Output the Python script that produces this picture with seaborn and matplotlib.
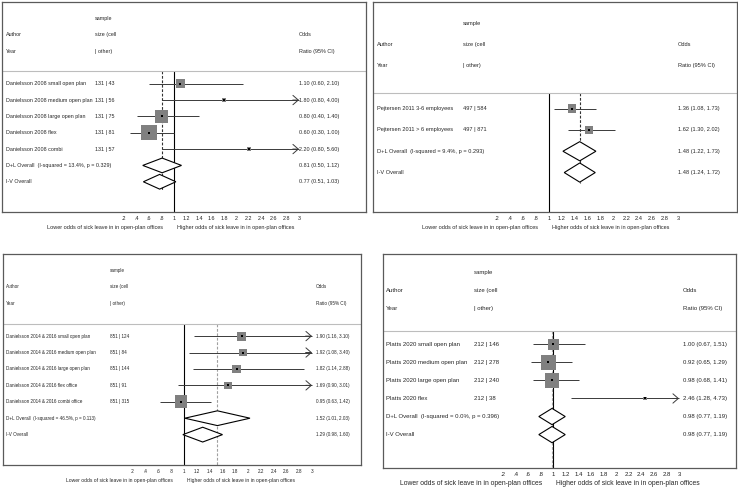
import numpy as np
import pandas as pd
import matplotlib.pyplot as plt
from matplotlib.patches import Polygon
import seaborn as sns

# ---- data ----
# panel 1: Danielsson 2008
p1_labels = ["Danielsson 2008 small open plan", "Danielsson 2008 medium open plan",
             "Danielsson 2008 large open plan", "Danielsson 2008 flex", "Danielsson 2008 combi"]
p1_samples = ["131 | 43", "131 | 56", "131 | 75", "131 | 81", "131 | 57"]
p1_or = [1.10, 1.80, 0.80, 0.60, 2.20]
p1_lo = [0.60, 0.80, 0.40, 0.30, 0.80]
p1_hi = [2.10, 4.00, 1.40, 1.00, 5.60]
p1_weight = [15, 4, 33, 46, 2]
p1_dl = [0.81, 0.50, 1.12]
p1_i2, p1_p = 13.4, 0.329
p1_iv = [0.77, 0.51, 1.03]

# panel 2: Pejtersen 2011
p2_labels = ["Pejtersen 2011 3-6 employees", "Pejtersen 2011 > 6 employees"]
p2_samples = ["497 | 584", "497 | 871"]
p2_or = [1.36, 1.62]
p2_lo = [1.08, 1.30]
p2_hi = [1.73, 2.02]
p2_weight = [52, 48]
p2_dl = [1.48, 1.22, 1.73]
p2_i2, p2_p = 9.4, 0.293
p2_iv = [1.48, 1.24, 1.72]

# panel 3: Danielsson 2014 & 2016
p3_labels = ["Danielsson 2014 & 2016 small open plan", "Danielsson 2014 & 2016 medium open plan",
             "Danielsson 2014 & 2016 large open plan", "Danielsson 2014 & 2016 flex office",
             "Danielsson 2014 & 2016 combi office"]
p3_samples = ["851 | 124", "851 | 84", "851 | 144", "851 | 91", "851 | 315"]
p3_or = [1.90, 1.92, 1.82, 1.69, 0.95]
p3_lo = [1.16, 1.08, 1.14, 0.90, 0.63]
p3_hi = [3.10, 3.40, 2.88, 3.01, 1.42]
p3_weight = [19, 12, 16, 14, 39]
p3_dl = [1.52, 1.01, 2.03]
p3_i2, p3_p = 46.5, 0.113
p3_iv = [1.29, 0.98, 1.60]

# panel 4: Platts 2020
p4_labels = ["Platts 2020 small open plan", "Platts 2020 medium open plan",
             "Platts 2020 large open plan", "Platts 2020 flex"]
p4_samples = ["212 | 146", "212 | 278", "212 | 240", "212 | 38"]
p4_or = [1.00, 0.92, 0.98, 2.46]
p4_lo = [0.67, 0.65, 0.68, 1.28]
p4_hi = [1.51, 1.29, 1.41, 4.73]
p4_weight = [21, 41, 36, 2]
p4_dl = [0.98, 0.77, 1.19]
p4_i2, p4_p = 0.0, 0.396
p4_iv = [0.98, 0.77, 1.19]

ticks = np.round(np.arange(0.2, 3.01, 0.2), 1)
tick_labels = [f"{t:g}".lstrip("0") for t in ticks]

sns.set_theme(style="white")
plt.rcParams["font.family"] = ["Liberation Sans", "DejaVu Sans"]
W, H = 738, 488
fig = plt.figure(figsize=(W / 100, H / 100), dpi=100)


def forest(box, p02, p3, cols, max_box, dash_bottom, dash_col, fs, fs_ax,
           labels, samples, est, lo, hi, weight, dl, i2, pval, iv):
    left, top, right, bottom = box
    ax = fig.add_axes([left / W, 1 - bottom / H, (right - left) / W, (bottom - top) / H])
    k = 2.8 / (p3 - p02)
    ax.set_xlim(0.2 + (left - p02) * k, 0.2 + (right - p02) * k)
    n = len(labels) + 2
    ybot = n + 0.85
    ax.set_ylim(ybot, -5)
    sep = -0.75
    fx = [(c - left) / (right - left) for c in cols]
    tr = ax.get_yaxis_transform()

    # header
    ax.text(fx[1], -4, "sample", transform=tr, va="center", fontsize=fs)
    for y, a, b, c in [(-3, "Author", "size (cell", "Odds"),
                       (-2, "Year", "| other)", "Ratio (95% CI)")]:
        ax.text(fx[0], y, a, transform=tr, va="center", fontsize=fs)
        ax.text(fx[1], y, b, transform=tr, va="center", fontsize=fs)
        ax.text(fx[2], y, c, transform=tr, va="center", fontsize=fs)
    ax.axhline(sep, color="#bdbdbd", lw=0.8)

    df = pd.DataFrame({"y": np.arange(len(labels)), "est": est, "lo": lo, "hi": hi, "w": weight})
    side = max_box * np.sqrt(df["w"] / df["w"].max()) * 0.72

    ax.vlines(1, sep, ybot, color="black", lw=0.8, zorder=1)
    dend = ybot if dash_bottom else n - 1 + 0.5
    ax.vlines(dl[0], sep, dend, color=dash_col, lw=0.8, linestyles=(0, (2.5, 1.5)), zorder=1)

    for r in df.itertuples():
        ax.hlines(r.y, r.lo, min(r.hi, 3), color="#3a3a3a", lw=0.7, zorder=2)
        if r.hi > 3:
            ax.annotate("", xy=(3, r.y), xytext=(2.9, r.y),
                        arrowprops=dict(arrowstyle="->,head_length=0.32,head_width=0.28",
                                        color="#3a3a3a", lw=0.7, shrinkA=0, shrinkB=0))
        ax.text(fx[0], r.y, labels[r.y], transform=tr, va="center", fontsize=fs)
        ax.text(fx[1], r.y, samples[r.y], transform=tr, va="center", fontsize=fs)
        ax.text(fx[2], r.y, f"{r.est:.2f} ({r.lo:.2f}, {r.hi:.2f})", transform=tr,
                va="center", fontsize=fs)

    sns.scatterplot(data=df, x="est", y="y", marker="s", s=side ** 2, color="#808080",
                    linewidth=0, legend=False, ax=ax, zorder=3)
    ax.scatter(df["est"], df["y"], marker="s", s=2.2, color="black", linewidth=0, zorder=4)

    # pooled diamonds
    for j, (pool, name) in enumerate([(dl, f"D+L Overall  (I-squared = {i2:.1f}%, p = {pval:.3f})"),
                                      (iv, "I-V Overall")]):
        y = len(labels) + j
        e, l, h = pool
        ax.add_patch(Polygon([(l, y), (e, y - 0.45), (h, y), (e, y + 0.45)], closed=True,
                             facecolor="white", edgecolor="black", lw=0.8, zorder=3))
        ax.text(fx[0], y, name, transform=tr, va="center", fontsize=fs)
        ax.text(fx[2], y, f"{e:.2f} ({l:.2f}, {h:.2f})", transform=tr, va="center", fontsize=fs)

    ax.set_xticks(ticks, tick_labels)
    ax.set_yticks([])
    ax.set_xlabel("")
    ax.set_ylabel("")
    ax.tick_params(axis="x", length=0, pad=3.2, labelsize=fs, colors="#222222")
    for s in ax.spines.values():
        s.set_color("#5a5a5a")
        s.set_linewidth(0.9)
    ax.annotate("Lower odds of sick leave in in open-plan offices", xy=(1, 0),
                xycoords=("data", "axes fraction"), xytext=(-11, -15.5), textcoords="offset pixels",
                ha="right", va="center", fontsize=fs_ax)
    ax.annotate("Higher odds of sick leave in in open-plan offices", xy=(1, 0),
                xycoords=("data", "axes fraction"), xytext=(3, -15.5), textcoords="offset pixels",
                ha="left", va="center", fontsize=fs_ax)


forest((2, 2, 366, 212), 124, 299, (6, 95, 299), 15.5, False, "#333333", 3.9, 3.95,
       p1_labels, p1_samples, p1_or, p1_lo, p1_hi, p1_weight, p1_dl, p1_i2, p1_p, p1_iv)
forest((373, 2, 737, 212), 497, 678, (377, 463, 678), 8.2, False, "#333333", 4.1, 4.0,
       p2_labels, p2_samples, p2_or, p2_lo, p2_hi, p2_weight, p2_dl, p2_i2, p2_p, p2_iv)
forest((3, 254, 361, 465), 133, 312, (6, 110, 316), 12.8, True, "#a0a0a0", 3.35, 3.6,
       p3_labels, p3_samples, p3_or, p3_lo, p3_hi, p3_weight, p3_dl, p3_i2, p3_p, p3_iv)
forest((383, 254, 736, 468), 503, 679, (386, 474, 683), 15.5, True, "#a0a0a0", 4.3, 4.9,
       p4_labels, p4_samples, p4_or, p4_lo, p4_hi, p4_weight, p4_dl, p4_i2, p4_p, p4_iv)

fig.savefig("out.png", dpi=100, facecolor="white")
